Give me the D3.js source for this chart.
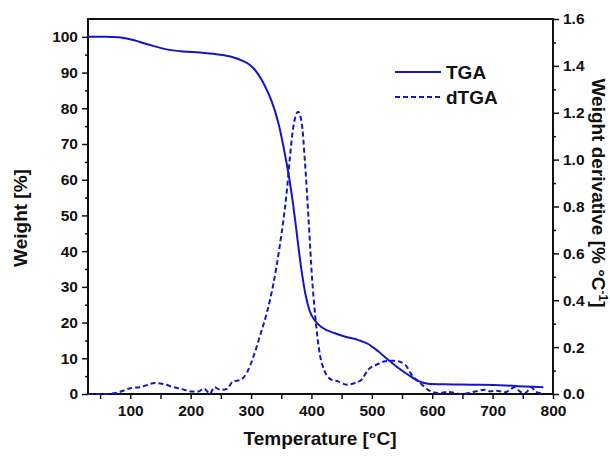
<!DOCTYPE html>
<html><head><meta charset="utf-8">
<script src="https://cdn.jsdelivr.net/npm/d3@7"></script>
<style>body{margin:0;background:#fff;} text{font-family:"Liberation Sans",Arial,sans-serif;font-weight:bold;fill:#111;}</style>
</head><body><svg id="c" width="610" height="456"></svg>
<script>
const tgaT = [30,60,80,92,105,133,160,188,215,243,270,287,296,304,312,320,327,334,340,345,351,356,364,370,375,380,385,390,397,406,417,439,455,478,494,511,527,544,560,577,593,621,665,720,742,784];
const tgaW = [100,100,99.9,99.6,99.1,97.7,96.5,95.9,95.6,95.1,94.3,93.2,92.4,91.2,89.5,87.2,84.8,82,79,76,71.5,67.2,59.6,52.7,46,39,33,28,23.3,20.5,18.7,17,16.1,15.1,14,11.9,9.6,7.3,5.4,3.6,2.9,2.7,2.6,2.4,2.2,1.9];
const dtgaT = [30,61,80,102,116,141,154,171,185,202,213,222,232,239,249,260,270,282,293,304,315,326,337,348,353,359,364,370,378,384,389,395,401,406,414,422,433,444,458,472,483,494,508,522,538,555,566,580,593,610,627,649,665,687,696,707,720,737,745,753,765,770,781];
const dtgaV = [0,0,0.007,0.026,0.029,0.047,0.043,0.03,0.021,0.011,0.011,0.023,0.001,0.029,0.018,0.021,0.054,0.06,0.09,0.16,0.25,0.345,0.47,0.64,0.73,0.86,1.0,1.14,1.204,1.155,1.0,0.756,0.495,0.34,0.168,0.097,0.061,0.054,0.04,0.047,0.061,0.104,0.125,0.14,0.142,0.125,0.082,0.047,0.018,0.004,0.009,0.0,0.007,0.018,0.011,0.014,0.007,0.029,0.011,0.003,0.029,0.011,0.003];
const xTicks = [100,200,300,400,500,600,700,800];
const yLeftTicks = [0,10,20,30,40,50,60,70,80,90,100];
const yRightTicks = [0,0.2,0.4,0.6,0.8,1.0,1.2,1.4,1.6];
const seriesNames = ["TGA","dTGA"];

const L=88,R=553,T=19,B=394;
const col="#1515c8";
const svg=d3.select("#c");
const x=d3.scaleLinear().domain([30,800]).range([L,R]);
const yl=d3.scaleLinear().domain([0,105]).range([B,T]);
const yr=d3.scaleLinear().domain([0,1.6]).range([B,T]);

function axisStyle(g){g.selectAll("path").remove();g.selectAll("line").attr("stroke","#111").attr("stroke-width",1.5);}
svg.append("g").attr("transform",`translate(0,${B})`).call(d3.axisBottom(x).tickValues(d3.range(50,800,100)).tickSize(5).tickFormat("")).call(axisStyle);
svg.append("g").attr("transform",`translate(${L},0)`).call(d3.axisLeft(yl).tickValues(d3.range(5,105,10)).tickSize(3).tickFormat("")).call(axisStyle);
svg.append("g").attr("transform",`translate(${R},0)`).call(d3.axisRight(yr).tickValues(d3.range(0.1,1.6,0.2)).tickSize(3).tickFormat("")).call(axisStyle);
const gx=svg.append("g").attr("transform",`translate(0,${B})`).call(d3.axisBottom(x).tickValues(xTicks).tickSize(5).tickPadding(6)).call(axisStyle);
gx.selectAll("text").style("font-size","15.5px").attr("dy","0.72em");
const gl=svg.append("g").attr("transform",`translate(${L},0)`).call(d3.axisLeft(yl).tickValues(yLeftTicks).tickSize(6).tickPadding(4)).call(axisStyle);
gl.selectAll("text").style("font-size","15.5px");
const gr=svg.append("g").attr("transform",`translate(${R},0)`).call(d3.axisRight(yr).tickValues(yRightTicks).tickSize(6).tickPadding(4).tickFormat(d3.format(".1f"))).call(axisStyle);
gr.selectAll("text").style("font-size","15.5px");

svg.append("rect").attr("x",L).attr("y",T).attr("width",R-L).attr("height",B-T).attr("fill","none").attr("stroke","#111").attr("stroke-width",2);

const lineT=d3.line().x((d,i)=>x(tgaT[i])).y(d=>yl(d)).curve(d3.curveMonotoneX);
const lineD=d3.line().x((d,i)=>x(dtgaT[i])).y(d=>yr(d)).curve(d3.curveMonotoneX);
svg.append("path").attr("d",lineD(dtgaV)).attr("fill","none").attr("stroke",col).attr("stroke-width",2).attr("stroke-dasharray","5,3");
svg.append("path").attr("d",lineT(tgaW)).attr("fill","none").attr("stroke",col).attr("stroke-width",2);

const lg=svg.append("g");
lg.append("line").attr("x1",395).attr("x2",441).attr("y1",72).attr("y2",72).attr("stroke",col).attr("stroke-width",2);
lg.append("line").attr("x1",395).attr("x2",441).attr("y1",97).attr("y2",97).attr("stroke",col).attr("stroke-width",2).attr("stroke-dasharray","5,3");
lg.append("text").attr("x",446).attr("y",79).style("font-size","19px").text(seriesNames[0]);
lg.append("text").attr("x",446).attr("y",104).style("font-size","19px").text(seriesNames[1]);

svg.append("text").attr("x",320).attr("y",445).attr("text-anchor","middle").style("font-size","19px").text("Temperature [°C]");
svg.append("text").attr("transform","translate(27,218) rotate(-90)").attr("text-anchor","middle").style("font-size","19px").text("Weight [%]");
const rt=svg.append("text").attr("transform","translate(592,193) rotate(90)").attr("text-anchor","middle").style("font-size","19px");
rt.append("tspan").text("Weight derivative [% °C");
rt.append("tspan").attr("dy","-7").style("font-size","12px").text("-1");
rt.append("tspan").attr("dy","7").text("]");
</script></body></html>
